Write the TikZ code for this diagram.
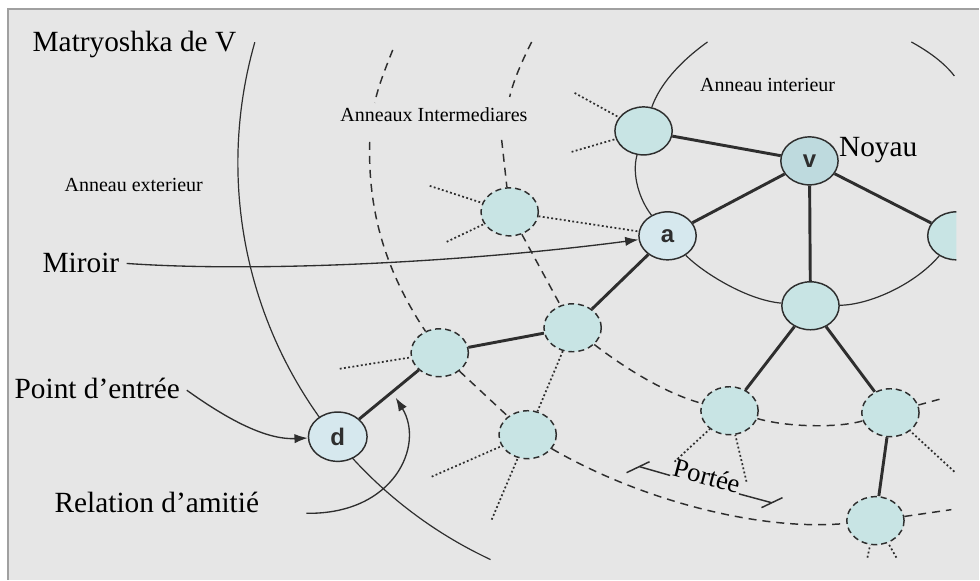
\documentclass[tikz,border=0pt]{standalone}
\usepackage{fontspec}
\setmainfont{Liberation Serif}
\newfontfamily\peersans{Liberation Sans}
\usetikzlibrary{shapes.geometric,arrows.meta}

\definecolor{bggray}{HTML}{E6E6E6}
\definecolor{framegray}{HTML}{A0A0A0}
\definecolor{ink}{HTML}{2E2E2E}
\definecolor{peerfill}{HTML}{C8E4E4}
\definecolor{corefill}{HTML}{BEDADE}
\definecolor{palefill}{HTML}{D6E8EE}

\newcommand\lblbig{\fontsize{22}{25}\selectfont}
\newcommand\lblsmall{\fontsize{15}{18}\selectfont}

\begin{document}
\begin{tikzpicture}[x=0.75pt,y=-0.75pt,
  peer/.style={ellipse,draw=ink,line width=1.1pt,fill=peerfill,
    minimum width=43pt,minimum height=36pt,inner sep=0pt,
    font=\peersans\bfseries\fontsize{18}{18}\selectfont,text=ink},
  ringpeer/.style={peer,dash pattern=on 4.5pt off 3pt},
  thinline/.style={draw=ink,line width=0.9pt},
  tie/.style={draw=ink,line width=2.2pt},
  ringline/.style={draw=ink,line width=1.1pt,dash pattern=on 6pt off 4.5pt},
  stub/.style={draw=ink,line width=1.3pt,dash pattern=on 1.4pt off 1.8pt},
  pointer/.style={draw=ink,line width=1pt,-{Latex[length=10pt,width=7pt]}},
  biglbl/.style={font=\lblbig,text=black,anchor=base west},
  smalllbl/.style={font=\lblsmall,text=black,anchor=base west}]

% page and framed panel
\fill[white] (0,0) rectangle (980,580);
\fill[bggray] (8,9) rectangle (980,580);
\draw[framegray,line width=1pt] (8,580) -- (8,9) -- (980,9);

\begin{scope}
\clip (8,9) rectangle (957,580);

% outermost ring of the Matryoshka
\draw[thinline] plot[domain=115:196,samples=80] ({676+438*cos(\x)},{163+438*sin(\x)});

% free ends of the rings and of the stubs
\coordinate (ir0) at (708,42);
\coordinate (or0) at (912,42);
\coordinate (or1) at (955,76);
\coordinate (r1a) at (393,50);
\coordinate (r1b) at (375,103);
\coordinate (r1c) at (370,142);
\coordinate (r1d) at (952,510);
\coordinate (r2a) at (532,42);
\coordinate (r2b) at (510,97);
\coordinate (r2c) at (502,140);
\coordinate (r2d) at (942,399);
\coordinate (s1) at (575,93);
\coordinate (s2) at (572,152);
\coordinate (s3) at (430,186);
\coordinate (s4) at (447,242);
\coordinate (s5) at (340,369);
\coordinate (s6) at (432,477);
\coordinate (s7) at (492,520);
\coordinate (s8) at (675,462);
\coordinate (s9) at (747,482);
\coordinate (s10) at (955,472);
\coordinate (s11) at (868,558);
\coordinate (s12) at (897,558);

% peers
\node[peer,fill=corefill] (v) at (810,161) {v};
\node[peer,fill=palefill] (a) at (668,236) {a};
\node[peer,fill=palefill,minimum width=44pt,minimum height=37pt] (d) at (338,437) {d};
\node[peer] (tl) at (644,131) {};
\node[peer] (rt) at (957,236) {};
\node[peer] (bt) at (811,306) {};
\node[ringpeer] (n1) at (510,212) {};
\node[ringpeer] (n2) at (573,328) {};
\node[ringpeer] (n3) at (440,353) {};
\node[ringpeer] (n4) at (528,435) {};
\node[ringpeer] (n5) at (730,411) {};
\node[ringpeer] (n6) at (891,413) {};
\node[ringpeer] (n7) at (876,521) {};

% inner ring
\draw[thinline] (ir0) .. controls (680,62) and (660,85) .. (tl);
\draw[thinline] (tl) .. controls (632,175) and (640,200) .. (a);
\draw[thinline] (a) .. controls (700,270) and (745,300) .. (bt);
\draw[thinline] (bt) .. controls (870,305) and (915,285) .. (rt);
\draw[thinline] (or0) .. controls (930,52) and (945,63) .. (or1);

% intermediate rings
\draw[ringline] (r1a) .. controls (385,70) and (378,88) .. (r1b);
\draw[ringline] (r1c) .. controls (368,210) and (385,270) .. (n3);
\draw[ringline] (n3) -- (n4);
\draw[ringline] (n4) .. controls (640,500) and (760,532) .. (n7);
\draw[ringline] (n7) -- (r1d);
\draw[ringline] (r2a) .. controls (522,62) and (514,80) .. (r2b);
\draw[ringline] (r2c) -- (n1);
\draw[ringline] (n1) -- (n2);
\draw[ringline] (n2) .. controls (630,372) and (670,395) .. (n5);
\draw[ringline] (n5) .. controls (790,428) and (840,428) .. (n6);
\draw[ringline] (n6) -- (r2d);

% friendship links
\draw[tie] (d) -- (n3);
\draw[tie] (n3) -- (n2);
\draw[tie] (n2) -- (a);
\draw[tie] (a) -- (v);
\draw[tie] (tl) -- (v);
\draw[tie] (v) -- (rt);
\draw[tie] (v) -- (bt);
\draw[tie] (bt) -- (n5);
\draw[tie] (bt) -- (n6);
\draw[tie] (n6) -- (n7);

% reach of the peers
\draw[stub] (s1) -- (tl);
\draw[stub] (s2) -- (tl);
\draw[stub] (s3) -- (n1);
\draw[stub] (s4) -- (n1);
\draw[stub] (n1) -- (a);
\draw[stub] (s5) -- (n3);
\draw[stub] (n2) -- (n4);
\draw[stub] (s6) -- (n4);
\draw[stub] (s7) -- (n4);
\draw[stub] (s8) -- (n5);
\draw[stub] (s9) -- (n5);
\draw[stub] (s10) -- (n6);
\draw[stub] (s11) -- (n7);
\draw[stub] (s12) -- (n7);

% labels
\node[biglbl] (matlab) at (28,52) {Matryoshka de V};
\node[smalllbl] (extlab) at (60,192) {Anneau exterieur};
\node[smalllbl] (intlab) at (336,122) {Anneaux Intermediares};
\node[smalllbl] (innlab) at (696,92) {Anneau interieur};
\node[biglbl] (noylab) at (835,157) {Noyau};
\node[biglbl] (mirlab) at (38,273) {Miroir};
\node[biglbl] (entlab) at (10,399) {Point d’entrée};
\node[biglbl] (amilab) at (50,513) {Relation d’amitié};

% pointers
\coordinate (amitip) at (396,398);
\draw[pointer,shorten <=2pt] (mirlab.east) .. controls (260,273) and (470,262) .. (a);
\draw[pointer,shorten <=2pt] (entlab.east) .. controls (235,425) and (270,440) .. (d);
\draw[pointer,shorten <=32pt] (amilab.base east) .. controls (395,515) and (425,445) .. (amitip);

% range bracket
\node[font=\fontsize{20}{21}\selectfont,anchor=base,rotate=-15,inner sep=1pt] (porlab) at (705,485) {Portée};
\coordinate (pl1) at (627,473);
\coordinate (pl2) at (650,462);
\coordinate (pla) at (640,467);
\coordinate (pr1) at (762,508);
\coordinate (pr2) at (783,498);
\coordinate (pra) at (772,503);
\draw[draw=ink,line width=1.1pt] (pl1) -- (pl2);
\draw[draw=ink,line width=1.1pt] (pla) -- (porlab.base west);
\draw[draw=ink,line width=1.1pt] (porlab.base east) -- (pra);
\draw[draw=ink,line width=1.1pt] (pr1) -- (pr2);
\end{scope}
\end{tikzpicture}
\end{document}
